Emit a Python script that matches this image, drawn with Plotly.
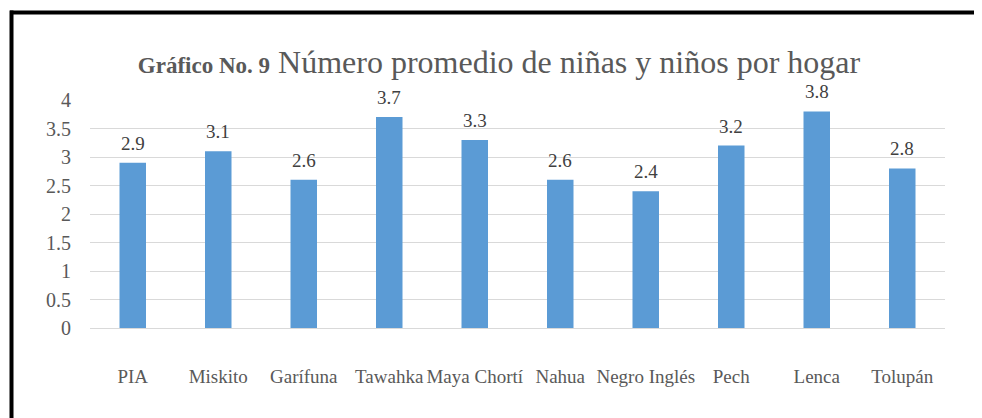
import plotly.graph_objects as go

categories = ["PIA", "Miskito", "Garífuna", "Tawahka", "Maya Chortí", "Nahua",
              "Negro Inglés", "Pech", "Lenca", "Tolupán"]
values = [2.9, 3.1, 2.6, 3.7, 3.3, 2.6, 2.4, 3.2, 3.8, 2.8]
y_ticks = [0, 0.5, 1, 1.5, 2, 2.5, 3, 3.5, 4]
y_tick_labels = ["0", "0.5", "1", "1.5", "2", "2.5", "3", "3.5", "4"]

FONT = "Liberation Serif"
OFF = 8  # page body margin
W, H = 982 - OFF, 418 - OFF
L, R, T, B = 90 - OFF, 37, 100 - OFF, 90
pw, ph = W - L - R, H - T - B

def px_x(px):
    return (px - OFF - L) / pw

def px_y(py):
    return (H - B - (py - OFF)) / ph

fig = go.Figure(go.Bar(
    x=categories, y=values,
    marker=dict(color="#5B9BD5", line=dict(width=0)),
    hoverinfo="x+y",
))

annotations = [
    dict(x=c, y=v, xref="x", yref="y", text=f"{v:.1f}", showarrow=False,
         yanchor="bottom", yshift=7,
         font=dict(family=FONT, size=19, color="#404040"))
    for c, v in zip(categories, values)
]

fig.update_layout(
    width=W, height=H,
    margin=dict(l=L, r=R, t=T, b=B),
    paper_bgcolor="white", plot_bgcolor="white",
    bargap=0.69,
    showlegend=False,
    font=dict(family=FONT, color="#595959"),
    title=dict(
        text="<span style='font-size:23px'><b>Gráfico No. 9</b></span> Número promedio de niñas y niños por hogar",
        x=(499 - OFF) / W, xanchor="center", y=1 - (62 - OFF) / H, yanchor="middle",
        font=dict(family=FONT, size=32, color="#595959"),
    ),
    xaxis=dict(
        showgrid=False, showline=False, ticks="",
        tickfont=dict(family=FONT, size=19, color="#595959"),
        ticklabelstandoff=35,
    ),
    yaxis=dict(
        range=[0, 4], tickvals=y_ticks, ticktext=y_tick_labels,
        showgrid=True, gridcolor="#D9D9D9", gridwidth=1,
        zeroline=True, zerolinecolor="#D9D9D9", zerolinewidth=1,
        showline=False, ticks="",
        tickfont=dict(family=FONT, size=20, color="#595959"),
        ticklabelstandoff=18,
    ),
    annotations=annotations,
    shapes=[
        dict(type="line", xref="paper", yref="paper",
             x0=px_x(10), x1=px_x(982), y0=px_y(12.5), y1=px_y(12.5),
             line=dict(color="black", width=4)),
        dict(type="line", xref="paper", yref="paper",
             x0=px_x(11.5), x1=px_x(11.5), y0=px_y(10.5), y1=px_y(418),
             line=dict(color="black", width=4)),
    ],
)

fig.write_html("out.html")
